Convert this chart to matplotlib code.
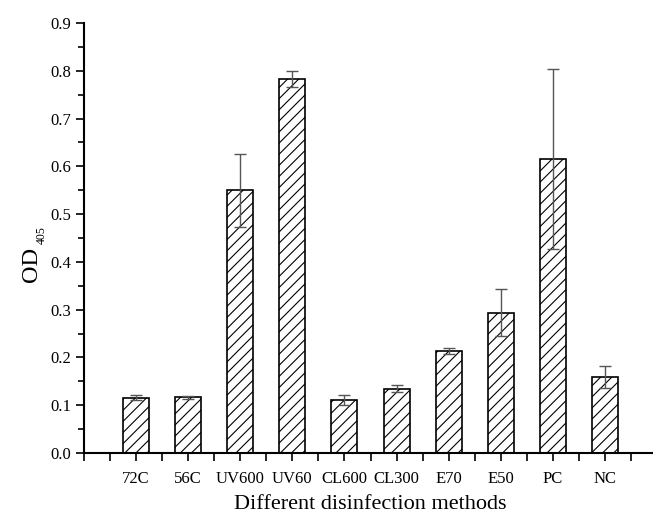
import numpy as np
import matplotlib.pyplot as plt
from matplotlib.ticker import MultipleLocator, FixedLocator

plt.rcParams['font.family'] = ['Liberation Serif', 'DejaVu Serif']
plt.rcParams['hatch.linewidth'] = 0.8

# data
methods = ['72C', '56C', 'UV600', 'UV60', 'CL600', 'CL300', 'E70', 'E50', 'PC', 'NC']
od_mean = [0.116, 0.117, 0.550, 0.783, 0.111, 0.135, 0.214, 0.294, 0.616, 0.160]
od_err = [0.005, 0.003, 0.076, 0.016, 0.010, 0.008, 0.006, 0.050, 0.188, 0.023]

W, H = 653, 514
fig = plt.figure(figsize=(W / 100, H / 100), dpi=100)
ax = fig.add_axes([84 / W, 1 - 453 / H, 573 / W, 430 / H])

x = np.arange(1, len(methods) + 1)
ax.bar(x, od_mean, width=0.5, color='white', edgecolor='black', linewidth=1.2, hatch='///', zorder=2)
ax.errorbar(x, od_mean, yerr=od_err, fmt='none', ecolor='#555555', elinewidth=1.0,
            capsize=4.5, capthick=1.0, zorder=3)

ax.set_xlim(0, 11)
ax.set_ylim(0, 0.9)
ax.xaxis.set_major_locator(FixedLocator(x))
ax.set_xticks(np.arange(0, 11.01, 0.5), minor=True)
ax.set_xticklabels(methods)
ax.set_yticks(np.arange(0, 0.91, 0.1))
ax.set_yticklabels([f'{v:.1f}' for v in np.arange(0, 0.91, 0.1)])
ax.yaxis.set_minor_locator(MultipleLocator(0.05))

for s in ['top', 'right']:
    ax.spines[s].set_visible(False)
for s in ['left', 'bottom']:
    ax.spines[s].set_linewidth(1.5)

ax.tick_params(axis='both', which='major', direction='out', length=6, width=1.2, labelsize=12)
ax.tick_params(axis='y', which='minor', direction='out', length=4, width=1.2)
ax.tick_params(axis='x', which='minor', direction='out', length=6, width=1.2)
ax.tick_params(axis='x', which='major', pad=7)

ax.set_xlabel('Different disinfection methods', fontsize=16, labelpad=6)

# y label: "OD" with a small subscript "405", as in the original
fig.text(36.5 / W, 1 - 264 / H, 'OD', fontsize=17.5, rotation=90, rotation_mode='anchor',
         ha='center', va='baseline')
fig.text(44.5 / W, 1 - 235 / H, '405', fontsize=8.5, rotation=90, rotation_mode='anchor',
         ha='center', va='baseline')

fig.savefig('out.png', dpi=100)
